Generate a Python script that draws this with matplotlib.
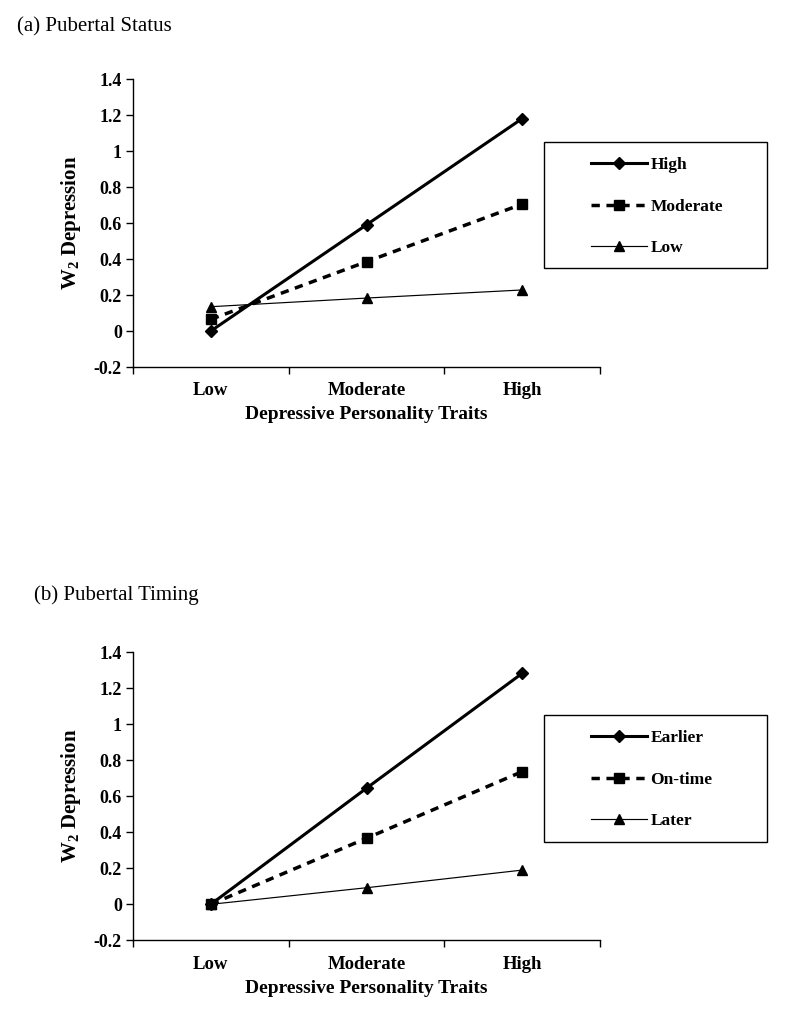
import matplotlib
matplotlib.use("Agg")
import matplotlib.pyplot as plt
from matplotlib.patches import Rectangle

plt.rcParams['font.family'] = ['Liberation Serif', 'DejaVu Serif']
plt.rcParams['mathtext.fontset'] = 'custom'
plt.rcParams['mathtext.rm'] = 'Liberation Serif:bold'
plt.rcParams['mathtext.bf'] = 'Liberation Serif:bold'
plt.rcParams['mathtext.it'] = 'Liberation Serif:bold'

categories = ["Low", "Moderate", "High"]
yticks = [-0.2, 0, 0.2, 0.4, 0.6, 0.8, 1, 1.2, 1.4]
ytick_labels = ["-0.2", "0", "0.2", "0.4", "0.6", "0.8", "1", "1.2", "1.4"]

# Panel (a) Pubertal Status
status_labels = ["High", "Moderate", "Low"]
status_high = [0.0, 0.59, 1.18]
status_moderate = [0.065, 0.385, 0.705]
status_low = [0.135, 0.183, 0.228]

# Panel (b) Pubertal Timing
timing_labels = ["Earlier", "On-time", "Later"]
timing_earlier = [0.0, 0.645, 1.283]
timing_ontime = [0.0, 0.367, 0.737]
timing_later = [0.0, 0.092, 0.19]

W, H = 787, 1023
fig = plt.figure(figsize=(W / 100, H / 100), dpi=100)


def fx(px):
    return px / W


def fy(py):
    return 1 - py / H


styles = [
    dict(color='black', lw=2.2, ls='-', marker='D', ms=6.5),
    dict(color='black', lw=2.5, ls=(0, (2.4, 1.9)), marker='s', ms=7.5),
    dict(color='black', lw=0.85, ls='-', marker='^', ms=7.5),
]


def panel(top_px, bottom_px, series, labels, title, title_xy, legend_box):
    ax = fig.add_axes([fx(133), fy(bottom_px), fx(600) - fx(133), fy(top_px) - fy(bottom_px)])
    xs = [0.5, 1.5, 2.5]
    for vals, lab, st in zip(series, labels, styles):
        ax.plot(xs, vals, label=lab, **st)
    ax.set_xlim(0, 3)
    ax.set_ylim(-0.2, 1.4)
    ax.set_yticks(yticks)
    ax.set_yticklabels(ytick_labels, fontweight='bold', fontsize=13)
    ax.set_xticks([0, 1, 2, 3])
    ax.set_xticklabels([])
    ax.set_xticks(xs, minor=True)
    ax.set_xticklabels(categories, minor=True, fontweight='bold', fontsize=13.5)
    ax.tick_params(axis='x', which='minor', length=0, pad=11)
    ax.tick_params(axis='x', which='major', length=5, width=1, direction='out')
    ax.tick_params(axis='y', length=5, width=1, direction='out', pad=3)
    for s in ['top', 'right']:
        ax.spines[s].set_visible(False)
    for s in ['left', 'bottom']:
        ax.spines[s].set_linewidth(1.0)
    ax.set_xlabel("Depressive Personality Traits", fontweight='bold', fontsize=14, labelpad=5)
    ax.set_ylabel(r"$\mathbf{W_2}$ Depression", fontweight='bold', fontsize=15, labelpad=8)
    fig.text(fx(title_xy[0]), fy(title_xy[1]), title, fontsize=15, ha='left', va='center')
    x0, y0, x1, y1 = legend_box
    fig.patches.append(Rectangle((fx(x0), fy(y1)), fx(x1) - fx(x0), fy(y0) - fy(y1),
                                 transform=fig.transFigure, fill=False, edgecolor='black', lw=1.0))
    ax.legend(loc='upper left', bbox_to_anchor=(fx(x0 + 42), fy(y0 + 10)),
              bbox_transform=fig.transFigure, frameon=False,
              prop=dict(weight='bold', size=12.5), handlelength=3.2, handletextpad=0.2,
              labelspacing=1.45, borderpad=0.3, borderaxespad=0)
    return ax


panel(79, 367, [status_high, status_moderate, status_low], status_labels,
      "(a) Pubertal Status", (17, 27), (544, 142, 767, 268))
panel(652.3, 940.3, [timing_earlier, timing_ontime, timing_later], timing_labels,
      "(b) Pubertal Timing", (34, 595), (544, 715, 767, 842))

fig.savefig("out.png", dpi=100)
